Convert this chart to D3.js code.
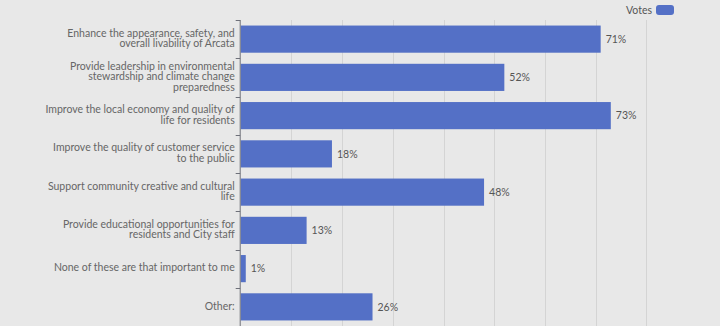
<!DOCTYPE html>
<html>
<head>
<meta charset="utf-8">
<script src="https://cdn.jsdelivr.net/npm/d3@7/dist/d3.min.js"></script>
<style>
  html, body { margin: 0; padding: 0; background: #e8e8e8; }
  svg { display: block; }
  text { font-family: Lato, "Noto Sans", sans-serif; }
</style>
</head>
<body>
<svg id="chart" width="720" height="326"></svg>
<script>
// Survey answers (line breaks mark where each label wraps)
const categories = [
  "Enhance the appearance, safety, and\noverall livability of Arcata",
  "Provide leadership in environmental\nstewardship and climate change\npreparedness",
  "Improve the local economy and quality of\nlife for residents",
  "Improve the quality of customer service\nto the public",
  "Support community creative and cultural\nlife",
  "Provide educational opportunities for\nresidents and City staff",
  "None of these are that important to me",
  "Other:"
];
// Share of respondents choosing each answer (%)
const votes = [71, 52, 73, 18, 48, 13, 1, 26];
const gridTicks = [10, 20, 30, 40, 50, 60, 70, 80];
const seriesName = "Votes";

const svg = d3.select("#chart");
const margin = { top: 20, left: 240.7, right: 74, bottom: 0 };
const W = 720, H = 326;

const x = d3.scaleLinear().domain([0, 80]).range([margin.left, 646.3]);
const y = d3.scaleBand().domain(d3.range(categories.length))
  .range([margin.top, margin.top + 38.25 * categories.length])
  .paddingInner(0.29).paddingOuter(0.145);

// vertical grid lines
svg.append("g").selectAll("line").data(gridTicks).join("line")
  .attr("x1", d => Math.round(x(d)) + 0.5).attr("x2", d => Math.round(x(d)) + 0.5)
  .attr("y1", margin.top).attr("y2", H)
  .attr("stroke", "#d4d4d4").attr("stroke-width", 1);

// bars
svg.append("g").selectAll("rect").data(votes).join("rect")
  .attr("x", x(0))
  .attr("y", (d, i) => y(i))
  .attr("width", d => x(d) - x(0))
  .attr("height", y.bandwidth())
  .attr("fill", "#5470c6");

// value labels
svg.append("g").selectAll("text").data(votes).join("text")
  .attr("x", d => x(d) + 5)
  .attr("y", (d, i) => y(i) + y.bandwidth() / 2)
  .attr("dy", "0.35em")
  .attr("font-size", 10.5)
  .attr("fill", "#555")
  .text(d => d + "%");

// category axis
const step = y.step();
const axisG = svg.append("g");
axisG.append("line")
  .attr("x1", margin.left - 0.5).attr("x2", margin.left - 0.5)
  .attr("y1", margin.top).attr("y2", H)
  .attr("stroke", "#6e7079");
axisG.selectAll("line.tick").data(d3.range(categories.length + 1)).join("line")
  .attr("class", "tick")
  .attr("x1", margin.left - 5).attr("x2", margin.left - 0.5)
  .attr("y1", i => Math.round(margin.top + i * step) + 0.5)
  .attr("y2", i => Math.round(margin.top + i * step) + 0.5)
  .attr("stroke", "#6e7079");

const lineH = 10.5;
axisG.selectAll("text.cat").data(categories).join("text")
  .attr("class", "cat")
  .attr("text-anchor", "end")
  .attr("font-size", 10.5)
  .attr("fill", "#666")
  .each(function (d, i) {
    const lines = d.split("\n");
    const cy = y(i) + y.bandwidth() / 2 - 1;
    const t = d3.select(this);
    lines.forEach((ln, k) => {
      t.append("tspan")
        .attr("x", margin.left - 6)
        .attr("y", cy + (k - (lines.length - 1) / 2) * lineH)
        .attr("dy", "0.35em")
        .text(ln);
    });
  });

// legend
const lg = svg.append("g");
lg.append("rect").attr("x", 656).attr("y", 5).attr("width", 18).attr("height", 10)
  .attr("rx", 3).attr("fill", "#5470c6");
lg.append("text").attr("x", 652).attr("y", 10).attr("dy", "0.35em")
  .attr("text-anchor", "end").attr("font-size", 10.5).attr("fill", "#555")
  .text(seriesName);
</script>
</body>
</html>
